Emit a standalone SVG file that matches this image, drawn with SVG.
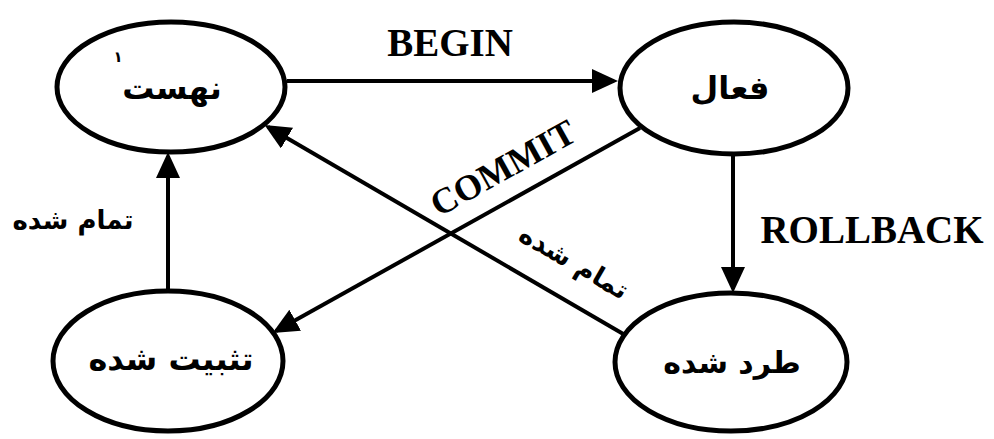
<svg xmlns="http://www.w3.org/2000/svg" width="994" height="439" viewBox="0 0 994 439">
<style>
.node{fill:#fff;stroke:#000;stroke-width:5}
.fa{font-family:"DejaVu Sans",sans-serif;font-weight:bold;fill:#000;text-anchor:middle;dominant-baseline:central}
.en{font-family:"Liberation Serif",serif;font-weight:bold;fill:#000;text-anchor:middle;dominant-baseline:central}
.edge{stroke:#000;stroke-width:4;fill:none}
</style>
<defs>
<marker id="ah" markerUnits="userSpaceOnUse" markerWidth="28" markerHeight="26" refX="22" refY="12" orient="auto">
<path d="M0,0 L26,12 L0,24 z" fill="#000"/>
</marker>
</defs>
<rect width="994" height="439" fill="#fff"/>
<g id="connectors">
<line class="edge" x1="287" y1="81" x2="614" y2="81" marker-end="url(#ah)"/>
<line class="edge" x1="733" y1="155" x2="733" y2="289" marker-end="url(#ah)"/>
<line class="edge" x1="168" y1="290" x2="168" y2="156" marker-end="url(#ah)"/>
<line class="edge" x1="640" y1="128" x2="276" y2="331" marker-end="url(#ah)"/>
<line class="edge" x1="625" y1="335" x2="268" y2="127" marker-end="url(#ah)"/>
<text class="en" x="450" y="42" font-size="39">BEGIN</text>
<text class="en" x="872" y="229" font-size="39">ROLLBACK</text>
<text class="en" x="503" y="168" font-size="36" transform="rotate(-29 503 168)">COMMIT</text>
<text class="fa" x="73" y="220" font-size="26">تمام شده</text>
<text class="fa" x="574" y="262" font-size="26" transform="rotate(30 574 262)">تمام شده</text>
</g>
<g id="node-idle">
<ellipse class="node" cx="171" cy="87" rx="114" ry="65"/>
<text class="fa" x="172" y="88" font-size="32">نهست</text>
<text class="fa" x="118" y="57" font-size="15">۱</text>
</g>
<g id="node-active">
<ellipse class="node" cx="734" cy="88" rx="114" ry="66"/>
<text class="fa" x="730" y="88" font-size="32">فعال</text>
</g>
<g id="node-committed">
<ellipse class="node" cx="168" cy="361" rx="115" ry="70"/>
<text class="fa" x="171" y="359" font-size="32">تثبیت شده</text>
</g>
<g id="node-aborted">
<ellipse class="node" cx="731" cy="362" rx="116" ry="69"/>
<text class="fa" x="732" y="362" font-size="30">طرد شده</text>
</g>
</svg>
